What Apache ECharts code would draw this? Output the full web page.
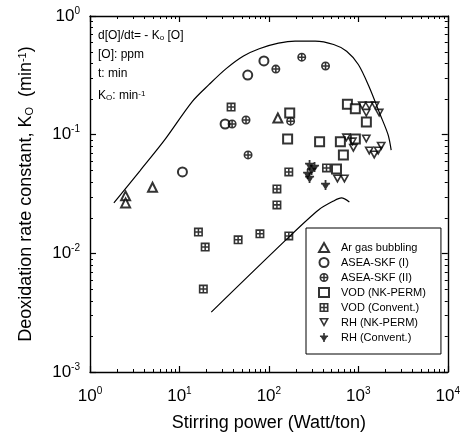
<!DOCTYPE html>
<html>
<head>
<meta charset="utf-8">
<script src="https://cdn.jsdelivr.net/npm/echarts@6/dist/echarts.min.js"></script>
<style>
html,body{margin:0;padding:0;background:#fff}
#chart{width:463px;height:443px}
</style>
</head>
<body>
<div id="chart"></div>
<script>
// measured points [power W/t, Ko 1/min]
var arGas = [[2.5,0.0305],[2.5,0.0266],[5.0,0.036],[126,0.138]];
var aseaSkf1 = [[10.8,0.0485],[32.4,0.123],[58,0.318],[88,0.418]];
var aseaSkf2 = [[38.8,0.123],[55.5,0.133],[58.5,0.0675],[119.6,0.357],[175,0.130],[233,0.45],[430,0.379]];
var vodNk = [[171,0.152],[162,0.092],[369,0.087],[630,0.087],[681,0.0675],[570,0.0514],[755,0.18],[926,0.165],[1230,0.128],[926,0.092]];
var vodConv = [[37.8,0.171],[167,0.0485],[123,0.0349],[123,0.0256],[16.3,0.0151],[19.4,0.0113],[45.3,0.013],[79.4,0.0146],[167,0.014],[18.5,0.005],[441,0.0524]];
var rhNk = [[1107,0.175],[1325,0.175],[1544,0.175],[1227,0.152],[1711,0.152],[736,0.094],[858,0.087],[880,0.077],[1227,0.092],[1325,0.073],[1506,0.0675],[1668,0.073],[1802,0.080],[584,0.0424],[699,0.0424]];
var rhConv = [[285,0.0556],[300,0.0504],[271,0.0467],[285,0.0432],[324,0.0535],[430,0.0377]];
// envelope curves
var upperCurve = [[1.85,0.0266],[3.6,0.0494],[6.8,0.090],[13.9,0.19],[21.5,0.265],[33.3,0.36],[52,0.46],[78,0.53],[128,0.59],[196,0.615],[330,0.615],[530,0.575],[740,0.505],[1000,0.39],[1330,0.25],[1740,0.15],[2150,0.1],[2330,0.074]];
var lowerCurve = [[22.7,0.0032],[167,0.0137],[359,0.0232],[528,0.0276],[648,0.0293],[794,0.0271]];
var minorMult = [2, 3, 4, 5, 6, 7, 8, 9];
var xDecades = [1, 10, 100, 1000];
var yDecades = [0.001, 0.01, 0.1];

var FONT = 'Liberation Sans, Arial, sans-serif';
var CIRCLE_PLUS = 'path://M5,0A5,5 0 1,1 5,10A5,5 0 1,1 5,0Z M5,1.8A3.2,3.2 0 1,0 5,8.2A3.2,3.2 0 1,0 5,1.8Z M4.15,1.8H5.85V8.2H4.15Z M1.8,4.15H8.2V5.85H1.8Z';
var SQUARE_PLUS = 'path://M0,0H10V10H0Z M1.8,1.8V8.2H8.2V1.8Z M4.15,1.8H5.85V8.2H4.15Z M1.8,4.15H8.2V5.85H1.8Z';
var DOWN_TRI = 'path://M0,0H10L5,9Z M2.7,1.6L5,5.7L7.3,1.6Z';
var RH_CONV = 'path://M1,3.5H9L5,10Z M4.1,0H5.9V10H4.1Z M0.5,2.8H9.5V4.5H0.5Z';

var powLabel = function (v) {
    var e = Math.round(Math.log10(v));
    return '{n|10}{e|' + e + '}';
};
var labelRich = {
    n: {fontSize: 17, fontFamily: FONT, color: '#000', lineHeight: 20},
    e: {fontSize: 10, fontFamily: FONT, color: '#000', verticalAlign: 'top'}
};

function axisCommon(showLabel) {
    return {
        axisLine: {show: true, lineStyle: {color: '#000', width: 1.4}},
        axisTick: {show: true, inside: true, length: 6, lineStyle: {color: '#000', width: 1.2}},
        splitLine: {show: false},
        axisLabel: {show: showLabel, formatter: powLabel, rich: labelRich, margin: 14}
    };
}

var xBottom = Object.assign({type: 'log', logBase: 10, min: 1, max: 10000, position: 'bottom',
    name: 'Stirring power (Watt/ton)', nameLocation: 'middle', nameGap: 42,
    nameTextStyle: {fontSize: 18, fontFamily: FONT, color: '#000'}}, axisCommon(true));
var xTop = Object.assign({type: 'log', logBase: 10, min: 1, max: 10000, position: 'top'}, axisCommon(false));
var yLeft = Object.assign({type: 'log', logBase: 10, min: 0.001, max: 1, position: 'left',
    name: 'Deoxidation rate constant, K{sub|O}  (min{sup|-1})', nameLocation: 'middle', nameGap: 55,
    nameTextStyle: {fontSize: 18, fontFamily: FONT, color: '#000',
        rich: {sub: {fontSize: 11, fontFamily: FONT, color: '#000', verticalAlign: 'bottom'},
               sup: {fontSize: 11, fontFamily: FONT, color: '#000', verticalAlign: 'top'}}}}, axisCommon(true));
yLeft.axisLabel.margin = 10;
var yRight = Object.assign({type: 'log', logBase: 10, min: 0.001, max: 1, position: 'right'}, axisCommon(false));

function pts(name, data, symbol, size, extra) {
    var s = {
        name: name, type: 'scatter', data: data, symbol: symbol, symbolSize: size,
        symbolKeepAspect: true,
        itemStyle: {color: '#000', borderColor: '#000', borderWidth: 0}
    };
    return Object.assign(s, extra || {});
}
var hollow = {color: '#000', borderColor: '#000', borderWidth: 1.3};

var textRich = {
    sub: {fontSize: 8, fontFamily: FONT, color: '#000', verticalAlign: 'bottom'},
    sup: {fontSize: 8, fontFamily: FONT, color: '#000', verticalAlign: 'top'}
};

var option = {
    animation: false,
    backgroundColor: '#fff',
    grid: {left: 90, right: 13, top: 16, bottom: 71},
    xAxis: [xBottom, xTop],
    yAxis: [yLeft, yRight],
    legend: {
        data: ['Ar gas bubbling', 'ASEA-SKF (I)', 'ASEA-SKF (II)', 'VOD (NK-PERM)', 'VOD (Convent.)', 'RH (NK-PERM)', 'RH (Convent.)'],
        orient: 'vertical', left: 306, top: 228,
        padding: [14, 15, 11, 12],
        itemWidth: 10, itemHeight: 9, itemGap: 4,
        borderColor: '#000', borderWidth: 1, backgroundColor: '#fff',
        textStyle: {fontSize: 11, fontFamily: FONT, color: '#000', padding: [0, 0, 0, 7]}
    },
    graphic: [
        {type: 'text', left: 98, top: 30, style: {text: 'd[O]/dt= - K{sub|o} [O]', fontSize: 12, fontFamily: FONT, fill: '#000', rich: textRich}},
        {type: 'text', left: 98, top: 49, style: {text: '[O]: ppm', fontSize: 12, fontFamily: FONT, fill: '#000'}},
        {type: 'text', left: 98, top: 68, style: {text: 't: min', fontSize: 12, fontFamily: FONT, fill: '#000'}},
        {type: 'text', left: 98, top: 90, style: {text: 'K{sub|O}: min{sup|-1}', fontSize: 12, fontFamily: FONT, fill: '#000', rich: textRich}}
    ],
    series: [
        {type: 'line', data: upperCurve, smooth: 0.3, symbol: 'none', lineStyle: {color: '#000', width: 1.2}, silent: true},
        {type: 'line', data: lowerCurve, smooth: 0.3, symbol: 'none', lineStyle: {color: '#000', width: 1.2}, silent: true},
        pts('Ar gas bubbling', arGas, 'emptyTriangle', 9, {itemStyle: hollow}),
        pts('ASEA-SKF (I)', aseaSkf1, 'emptyCircle', 9, {itemStyle: hollow}),
        pts('ASEA-SKF (II)', aseaSkf2, CIRCLE_PLUS, 9),
        pts('VOD (NK-PERM)', vodNk, 'emptyRect', 9, {itemStyle: hollow}),
        pts('VOD (Convent.)', vodConv, SQUARE_PLUS, 9),
        pts('RH (NK-PERM)', rhNk, DOWN_TRI, 10),
        pts('RH (Convent.)', rhConv, RH_CONV, 10)
    ]
};

var chart = echarts.init(document.getElementById('chart'));
chart.setOption(option);

// minor log ticks on all four sides, placed through the axis scales
var x0 = chart.convertToPixel({xAxisIndex: 0}, 1);
var x1 = chart.convertToPixel({xAxisIndex: 0}, 10000);
var y0 = chart.convertToPixel({yAxisIndex: 0}, 0.001);
var y1 = chart.convertToPixel({yAxisIndex: 0}, 1);
var ticks = [];
var tickStyle = {stroke: '#000', lineWidth: 1};
xDecades.forEach(function (d) {
    minorMult.forEach(function (m) {
        var px = Math.round(chart.convertToPixel({xAxisIndex: 0}, d * m)) + 0.5;
        ticks.push({type: 'line', silent: true, shape: {x1: px, y1: y0, x2: px, y2: y0 - 3}, style: tickStyle});
        ticks.push({type: 'line', silent: true, shape: {x1: px, y1: y1, x2: px, y2: y1 + 3}, style: tickStyle});
    });
});
yDecades.forEach(function (d) {
    minorMult.forEach(function (m) {
        var py = Math.round(chart.convertToPixel({yAxisIndex: 0}, d * m)) + 0.5;
        ticks.push({type: 'line', silent: true, shape: {x1: x0, y1: py, x2: x0 + 3, y2: py}, style: tickStyle});
        ticks.push({type: 'line', silent: true, shape: {x1: x1, y1: py, x2: x1 - 3, y2: py}, style: tickStyle});
    });
});
chart.setOption({graphic: option.graphic.concat(ticks)});
</script>
</body>
</html>
